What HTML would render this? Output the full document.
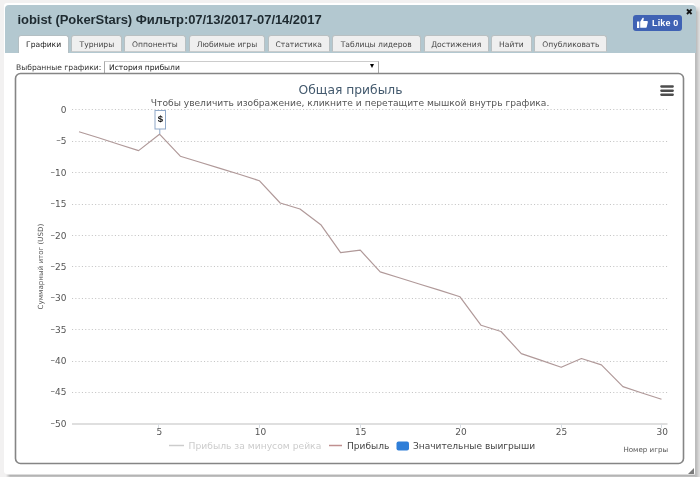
<!DOCTYPE html>
<html><head><meta charset="utf-8">
<style>
*{box-sizing:border-box;margin:0;padding:0}
html,body{width:700px;height:477px;overflow:hidden;background:#f2f1f1;font-family:"DejaVu Sans Condensed","DejaVu Sans",sans-serif}
#dlg{position:absolute;left:4px;top:3px;width:691px;height:471px;background:#fff;border-radius:3px}
#shr{position:absolute;left:695px;top:6px;width:5px;height:471px;background:linear-gradient(to right,#bcbcbc 0 1px,#bfbfbf 1px 2px,#c9c9c9 2px 3px,#d4d4d4 3px 4px,#dcdcdc 4px 5px);-webkit-mask:linear-gradient(to bottom,transparent 0,#000 6px);mask:linear-gradient(to bottom,transparent 0,#000 6px)}
#shb{position:absolute;left:6px;top:474px;width:689px;height:3px;background:linear-gradient(to bottom,#dcdcdc 0 1px,#b4b4b4 1px 2px,#c0c0c0 2px 3px);-webkit-mask:linear-gradient(to right,transparent 0,#000 4px);mask:linear-gradient(to right,transparent 0,#000 4px)}
#hdr{position:absolute;left:5px;top:5px;width:691px;height:48px;background:#b3c8d0;border-radius:4px 4px 0 0}
#title{position:absolute;left:17.5px;top:12.4px;font:bold 13px "Liberation Sans",Arial,sans-serif;color:#1e2a30;white-space:nowrap;letter-spacing:-0.05px}
#tabs{position:absolute;left:0;top:35px;height:18px;width:700px}
.tab{position:absolute;top:0;height:17px;text-align:center;font-family:"DejaVu Sans",sans-serif;font-size:7.6px;line-height:17px;color:#484848;background:#efefef;border:1px solid #b9c0c2;border-bottom:1px solid #c9cccd;border-radius:3px 3px 0 0;white-space:nowrap}
.tab.act{background:#fff;color:#222;height:18px;border-color:#b4bfc3;border-bottom:none}
#like{position:absolute;left:633px;top:15px;width:49px;height:16px;background:#3f62b4;border-radius:3px;color:#fff;font:bold 9px "Liberation Sans",Arial,sans-serif;line-height:16px;letter-spacing:0.15px}
#close{position:absolute;left:685.5px;top:7px;font:bold 9px "DejaVu Sans",sans-serif;color:#111}
#lbl{position:absolute;left:16px;top:62.5px;font-family:"DejaVu Sans",sans-serif;font-size:7.6px;color:#333;white-space:nowrap}
#sel{position:absolute;left:104px;top:61px;width:275px;height:13px;border:1px solid #aaa;border-top-color:#ccc;border-bottom:none;background:#fff;font-family:"DejaVu Sans",sans-serif;font-size:7.6px;color:#222;line-height:11px;padding-left:4px}
#grip{position:absolute;left:688px;top:467.5px;width:0;height:0;border-left:6.5px solid transparent;border-bottom:6.5px solid #7a7a7a}
svg text{font-family:"DejaVu Sans",sans-serif}
</style></head><body>
<div id="dlg"></div><div id="shr"></div><div id="shb"></div>
<div id="hdr"></div>
<div id="title">iobist (PokerStars) Фильтр:07/13/2017-07/14/2017</div>
<div id="tabs">
<div class="tab act" style="left:18px;width:51.2px">Графики</div><div class="tab" style="left:71.4px;width:50.9px">Турниры</div><div class="tab" style="left:123.8px;width:62.2px">Оппоненты</div><div class="tab" style="left:189px;width:76.0px">Любимые игры</div><div class="tab" style="left:267.8px;width:61.8px">Статистика</div><div class="tab" style="left:331.8px;width:88.8px">Таблицы лидеров</div><div class="tab" style="left:423.9px;width:64.7px">Достижения</div><div class="tab" style="left:490.9px;width:41.1px">Найти</div><div class="tab" style="left:534.3px;width:73.1px">Опубликовать</div>
</div>
<div id="like"><svg width="11" height="11" viewBox="0 0 12 12" style="position:absolute;left:4px;top:1.6px"><path d="M0 5h2.5v7H0z M3.5 5.2 L6 1.2 C6.6 0.4 7.6 0.8 7.4 1.8 L6.9 4.3 H10.8 C11.6 4.3 12 5 11.8 5.6 L10.6 10.8 C10.4 11.5 9.9 11.8 9.3 11.8 H3.5z" fill="#fff"/></svg><span style="position:absolute;left:19px;top:0.1px">Like 0</span></div>
<div id="close">✖</div>
<div id="lbl">Выбранные графики:</div>
<div id="sel">История прибыли<span style="position:absolute;left:264.5px;top:2.3px;width:0;height:0;border-left:2.5px solid transparent;border-right:2.5px solid transparent;border-top:4.2px solid #000"></span></div>
<svg width="700" height="477" style="position:absolute;left:0;top:0">
<rect x="15.5" y="73.5" width="668" height="390" rx="5" ry="5" fill="none" stroke="#858585" stroke-width="1.6"/>
<g stroke="#c6c6c6" stroke-width="1" stroke-dasharray="1.1,2.2">
<line x1="72" y1="109.5" x2="669" y2="109.5"/>
<line x1="72" y1="141.5" x2="669" y2="141.5"/>
<line x1="72" y1="172.5" x2="669" y2="172.5"/>
<line x1="72" y1="204.5" x2="669" y2="204.5"/>
<line x1="72" y1="235.5" x2="669" y2="235.5"/>
<line x1="72" y1="266.5" x2="669" y2="266.5"/>
<line x1="72" y1="298.5" x2="669" y2="298.5"/>
<line x1="72" y1="329.5" x2="669" y2="329.5"/>
<line x1="72" y1="361.5" x2="669" y2="361.5"/>
<line x1="72" y1="392.5" x2="669" y2="392.5"/>
</g>
<line x1="72" y1="424" x2="667.5" y2="424" stroke="#dfdfdf" stroke-width="2"/>
<g stroke="#d8dde2" stroke-width="1">
<line x1="158.5" y1="424" x2="158.5" y2="428"/><line x1="259.5" y1="424" x2="259.5" y2="428"/><line x1="360.5" y1="424" x2="360.5" y2="428"/><line x1="460.5" y1="424" x2="460.5" y2="428"/><line x1="561.5" y1="424" x2="561.5" y2="428"/><line x1="661.5" y1="424" x2="661.5" y2="428"/>
</g>
<g font-size="9" fill="#555" text-anchor="end">
<text x="66.5" y="113">0</text>
<text x="66.5" y="144"><tspan dy="-0.7">–</tspan><tspan dy="0.7">5</tspan></text>
<text x="66.5" y="176"><tspan dy="-0.7">–</tspan><tspan dy="0.7">10</tspan></text>
<text x="66.5" y="207"><tspan dy="-0.7">–</tspan><tspan dy="0.7">15</tspan></text>
<text x="66.5" y="239"><tspan dy="-0.7">–</tspan><tspan dy="0.7">20</tspan></text>
<text x="66.5" y="270"><tspan dy="-0.7">–</tspan><tspan dy="0.7">25</tspan></text>
<text x="66.5" y="301"><tspan dy="-0.7">–</tspan><tspan dy="0.7">30</tspan></text>
<text x="66.5" y="333"><tspan dy="-0.7">–</tspan><tspan dy="0.7">35</tspan></text>
<text x="66.5" y="364"><tspan dy="-0.7">–</tspan><tspan dy="0.7">40</tspan></text>
<text x="66.5" y="395"><tspan dy="-0.7">–</tspan><tspan dy="0.7">45</tspan></text>
<text x="66.5" y="427"><tspan dy="-0.7">–</tspan><tspan dy="0.7">50</tspan></text>
</g>
<g font-size="9" fill="#555" text-anchor="middle">
<text x="159.3" y="435">5</text><text x="260.5" y="435">10</text><text x="360.7" y="435">15</text><text x="461" y="435">20</text><text x="561.6" y="435">25</text><text x="662.2" y="435">30</text>
</g>
<text x="0" y="0" font-size="7.1" fill="#555" text-anchor="middle" transform="translate(43.3,266.6) rotate(-90)">Суммарный итог (USD)</text>
<text x="645.7" y="451.7" font-size="7.1" fill="#555" text-anchor="middle">Номер игры</text>
<text x="350.5" y="93.5" font-size="12.3" fill="#445a6e" text-anchor="middle">Общая прибыль</text>
<text x="350.1" y="105.7" font-size="9.15" fill="#555" text-anchor="middle">Чтобы увеличить изображение, кликните и перетащите мышкой внутрь графика.</text>
<g fill="#4d4d4d"><rect x="660.2" y="85.3" width="13.7" height="2.4" rx="1.1"/><rect x="660.2" y="89.5" width="13.7" height="2.4" rx="1.1"/><rect x="660.2" y="93.5" width="13.7" height="2.4" rx="1.1"/></g>
<polyline fill="none" stroke="#b09999" stroke-width="1.2" stroke-linejoin="round" points="79,131.8 98.5,137.8 118.5,144.2 138.6,150.6 159.5,134.2 180.3,156.2 200,162.3 220,168.4 240,174.5 259.3,180.7 280.2,203 300,209 320.8,224.7 340.6,252.6 360.3,250.2 380.2,271.9 400,278 420,284.2 440,290.4 460,296.8 481.1,325.3 501,331.5 521.3,353.6 541.3,360.4 561.2,367.3 581.4,358.5 601.4,364.9 622.9,386.6 642,393 661.5,399.2"/>
<line x1="159.8" y1="129" x2="159.8" y2="134" stroke="#8fa8c8" stroke-width="1"/>
<rect x="155" y="110.5" width="10.5" height="18.5" fill="#fff" stroke="#8fa8c8" stroke-width="1"/>
<text x="160.3" y="122.4" font-size="9.5" font-weight="bold" fill="#111" text-anchor="middle" style="font-family:'Liberation Sans',sans-serif">$</text>
<line x1="169" y1="445.5" x2="184" y2="445.5" stroke="#ccc" stroke-width="1.5"/>
<text x="188.5" y="449.4" font-size="9.2" fill="#ccc">Прибыль за минусом рейка</text>
<line x1="329" y1="445.5" x2="342" y2="445.5" stroke="#c09090" stroke-width="1.5"/>
<text x="347" y="449.4" font-size="9.05" fill="#444">Прибыль</text>
<rect x="396.5" y="441.5" width="12.5" height="9" rx="2" fill="#2f7ed8"/>
<text x="413" y="449.4" font-size="9.05" fill="#444">Значительные выигрыши</text>
</svg>
<div id="grip"></div>
</body></html>
